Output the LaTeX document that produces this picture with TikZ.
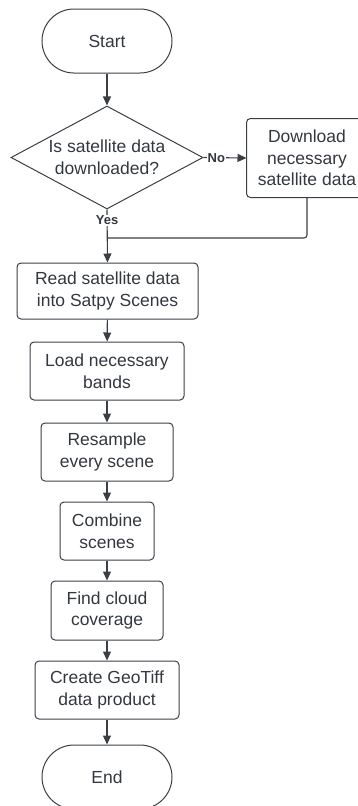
\documentclass[tikz,border=0pt]{standalone}
\usepackage{fontspec}
\setmainfont{Liberation Sans}
\usetikzlibrary{shapes.geometric,arrows.meta}
\definecolor{ink}{HTML}{3A3F46}
\definecolor{txt}{HTML}{33383F}
\tikzset{
  base/.style={draw=ink, line width=1pt, text=txt, align=center,
    font=\fontsize{17.5}{21.7}\selectfont, inner sep=0pt},
  procbox/.style={base, rectangle, rounded corners=4pt},
  terminal/.style={base, rectangle, rounded corners=32pt,
    minimum width=130pt, minimum height=64pt},
  decision/.style={base, diamond, aspect=1.86,
    minimum width=192pt, minimum height=103pt},
  frame/.style={draw=ink, line width=1pt, rounded corners=4pt},
  flow/.style={draw=ink, line width=1.1pt,
    -{Triangle[length=9pt,width=8pt]}},
  plain/.style={draw=ink, line width=1.1pt, rounded corners=3pt},
  tag/.style={fill=white, text=txt, inner sep=1pt,
    font=\fontsize{13}{15}\selectfont\bfseries}
}
\begin{document}
\begin{tikzpicture}[x=1pt,y=-1pt]
\useasboundingbox (0,0) rectangle (358,806);
\clip (0,0) rectangle (358,806);

\node[terminal] (start) at (107,41) {Start};
\node[decision] (dec) at (107,157.5) {Is satellite data\\downloaded?};
% the download box runs past the right edge of the page
\node[base, draw=none, minimum width=120pt, minimum height=78pt] (dl) at (307,158) {Download\\necessary\\satellite data};
\draw[frame] (dl.north west) rectangle ([xshift=60pt]dl.south east);
\node[procbox, minimum width=181pt, minimum height=56pt] (read) at (107.5,291) {Read satellite data\\into Satpy Scenes};
\node[procbox, minimum width=154pt, minimum height=58pt] (load) at (107,371) {Load necessary\\bands};
\node[procbox, minimum width=132pt, minimum height=58pt] (res) at (107,452) {Resample\\every scene};
\node[procbox, minimum width=94pt, minimum height=58pt] (comb) at (107,531) {Combine\\scenes};
\node[procbox, minimum width=112pt, minimum height=59pt] (cloud) at (107,610.5) {Find cloud\\coverage};
\node[procbox, minimum width=144pt, minimum height=58pt] (geo) at (107,690) {Create GeoTiff\\data product};
\node[terminal] (end) at (107,777) {End};

\coordinate (join) at (107,238);

\draw[flow] (start) -- (dec);
\draw[flow] (dec.east) -- node[tag, pos=0.3] {No} (dl.west);
\draw[plain] (dl.south) |- (join);
\draw[flow] (dec.south) -- (read.north)
  node[tag, pos=0.2] {Yes};
\draw[flow] (read) -- (load);
\draw[flow] (load) -- (res);
\draw[flow] (res) -- (comb);
\draw[flow] (comb) -- (cloud);
\draw[flow] (cloud) -- (geo);
\draw[flow] (geo) -- (end);
\end{tikzpicture}
\end{document}
